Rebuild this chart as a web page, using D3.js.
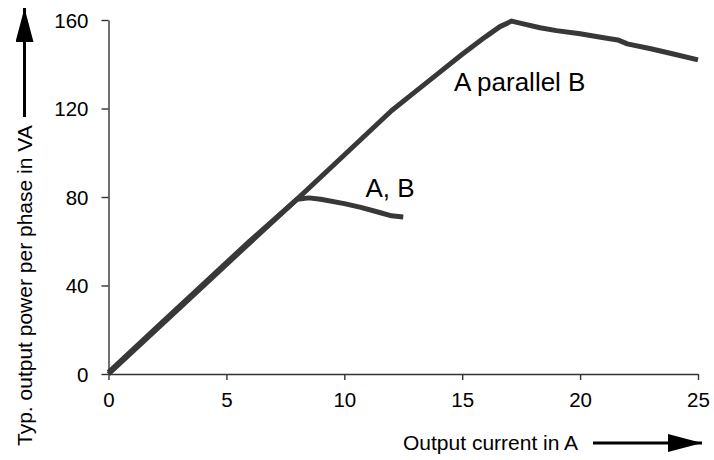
<!DOCTYPE html>
<html>
<head>
<meta charset="utf-8">
<script src="https://cdn.jsdelivr.net/npm/d3@7"></script>
<style>
  html, body { margin: 0; padding: 0; background: #fff; }
  svg { display: block; font-family: "Liberation Sans", Arial, Helvetica, sans-serif; }
</style>
</head>
<body>
<svg id="chart" width="714" height="460"></svg>
<script>
// ---- data ----
const xTicks = [0, 5, 10, 15, 20, 25];
const yTicks = [0, 40, 80, 120, 160];

const parallelCurrent = [0, 2, 4, 6, 8, 10, 12, 13, 14, 15, 16, 16.6, 17.1, 17.5, 18.3, 19, 20, 21, 21.6, 22, 23, 24, 25];
const parallelPower   = [0, 19.8, 39.6, 59.4, 79, 99, 119, 127.5, 136, 144.5, 152.5, 157, 159.5, 158.5, 156.5, 155.2, 153.8, 152, 151, 149.2, 147, 144.5, 142];

const singleCurrent = [0, 2, 4, 6, 8, 8.5, 9, 10, 10.7, 11.5, 12, 12.5];
const singlePower   = [0.8, 20.6, 40.4, 60.2, 79, 79.6, 79, 77, 75.3, 73, 71.5, 71];

const labels = [
  { text: "A parallel B", x: 14.65, y: 128 },
  { text: "A, B", x: 10.9, y: 80 }
];

// ---- layout ----
const svg = d3.select("#chart");
const x = d3.scaleLinear().domain([0, 25]).range([108.5, 698]);
const y = d3.scaleLinear().domain([0, 160]).range([374, 20]);
const ink = "#333";

// axes
const gx = svg.append("g").attr("transform", "translate(0,374)")
  .call(d3.axisBottom(x).tickValues(xTicks).tickSize(6).tickSizeOuter(0).tickPadding(8));
const gy = svg.append("g").attr("transform", "translate(108.5,0)")
  .call(d3.axisLeft(y).tickValues(yTicks).tickSize(7).tickSizeOuter(0).tickPadding(13));

[gx, gy].forEach(g => {
  g.selectAll("path.domain").attr("stroke", ink).attr("stroke-width", 1.4);
  g.selectAll(".tick line").attr("stroke", ink).attr("stroke-width", 1.4);
  g.selectAll(".tick text").attr("fill", "#000").attr("font-size", 20.5)
    .attr("font-family", "Liberation Sans, Arial, sans-serif");
});
gx.selectAll(".tick text").attr("dy", "0.95em");
gy.selectAll(".tick text").attr("dy", "0.36em");

// lines
const line = d3.line().x(d => x(d[0])).y(d => y(d[1]));
const parallel = parallelCurrent.map((c, i) => [c, parallelPower[i]]);
const single = singleCurrent.map((c, i) => [c, singlePower[i]]);

svg.append("path").datum(single).attr("d", line)
  .attr("fill", "none").attr("stroke", "#383838").attr("stroke-width", 5)
  .attr("stroke-linejoin", "round").attr("stroke-linecap", "butt");
svg.append("path").datum(parallel).attr("d", line)
  .attr("fill", "none").attr("stroke", "#383838").attr("stroke-width", 5)
  .attr("stroke-linejoin", "round").attr("stroke-linecap", "butt");

// curve labels
svg.selectAll("text.lbl").data(labels).enter().append("text")
  .attr("class", "lbl")
  .attr("x", d => x(d.x)).attr("y", d => y(d.y))
  .attr("font-size", 26).attr("fill", "#000")
  .text(d => d.text);

// axis titles with arrows
const defs = svg.append("defs");
defs.append("marker").attr("id", "arr").attr("viewBox", "0 0 34 18")
  .attr("refX", 34).attr("refY", 9).attr("markerUnits", "userSpaceOnUse")
  .attr("markerWidth", 34).attr("markerHeight", 18).attr("orient", "auto")
  .append("path").attr("d", "M0,0 L34,9 L0,18 Z").attr("fill", "#000");

svg.append("text")
  .attr("transform", "translate(32,446) rotate(-90)")
  .attr("font-size", 21).attr("fill", "#000")
  .text("Typ. output power per phase in VA");
svg.append("line").attr("x1", 24.5).attr("x2", 24.5).attr("y1", 117).attr("y2", 8)
  .attr("stroke", "#000").attr("stroke-width", 3).attr("marker-end", "url(#arr)");

svg.append("text")
  .attr("x", 403).attr("y", 450)
  .attr("font-size", 21).attr("fill", "#000")
  .text("Output current in A");
svg.append("line").attr("x1", 593).attr("x2", 702).attr("y1", 443).attr("y2", 443)
  .attr("stroke", "#000").attr("stroke-width", 3).attr("marker-end", "url(#arr)");
</script>
</body>
</html>
